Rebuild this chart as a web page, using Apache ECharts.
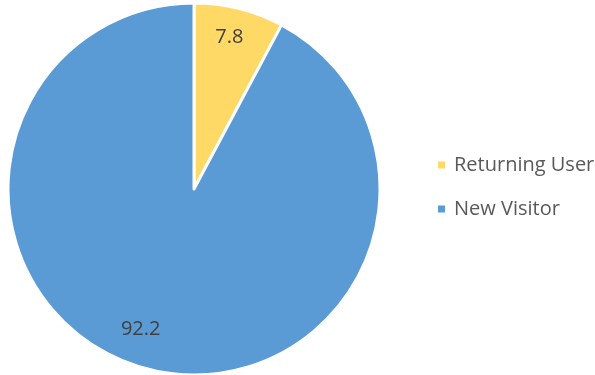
<!DOCTYPE html>
<html>
<head>
<meta charset="utf-8">
<script src="https://cdn.jsdelivr.net/npm/echarts@6/dist/echarts.min.js"></script>
<style>html,body{margin:0;padding:0;background:#fff;}#c{width:595px;height:375px;}</style>
</head>
<body>
<div id="c"></div>
<script>
const categories = ["Returning User", "New Visitor"];
const values = [7.8, 92.2];
const colors = ["#FFD966", "#5B9BD5"];
const labelOffsets = [[12, -59], [-30, 47]];

const chart = echarts.init(document.getElementById('c'), null, {renderer: 'canvas'});
chart.setOption({
  animation: false,
  backgroundColor: '#ffffff',
  legend: {
    orient: 'vertical',
    left: 436,
    top: 155,
    padding: 0,
    icon: 'rect',
    itemWidth: 9,
    itemHeight: 9,
    itemGap: 24,
    textStyle: {fontFamily: 'Open Sans', fontSize: 20, color: '#595959', padding: [0,0,0,3]},
    data: categories
  },
  series: [{
    type: 'pie',
    center: [194, 189],
    radius: [0, 186],
    startAngle: 90,
    clockwise: true,
    avoidLabelOverlap: false,
    itemStyle: {borderColor: '#ffffff', borderWidth: 3},
    label: {
      show: true,
      position: 'inside',
      formatter: '{c}',
      fontFamily: 'Open Sans',
      fontSize: 20,
      color: '#404040'
    },
    labelLine: {show: false},
    emphasis: {disabled: true},
    data: categories.map((n, i) => ({
      name: n,
      value: values[i],
      itemStyle: {color: colors[i]},
      label: {offset: labelOffsets[i]}
    }))
  }]
});
</script>
</body>
</html>
